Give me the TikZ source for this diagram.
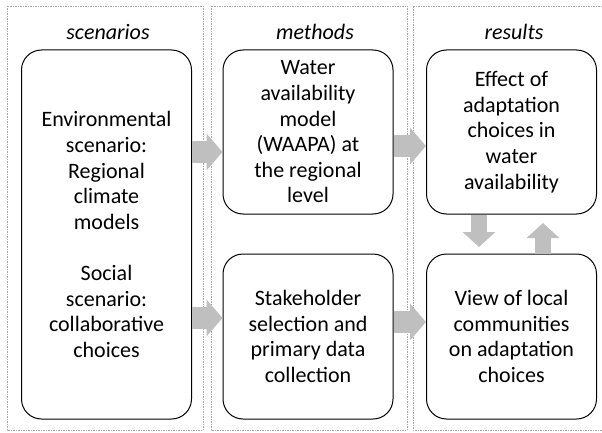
\documentclass[tikz,border=0pt]{standalone}
\usepackage{fontspec}
\setmainfont{Carlito}
\usetikzlibrary{arrows.meta}
\definecolor{flowgrey}{HTML}{BFBFBF}
\definecolor{panelgrey}{HTML}{A6A6A6}
\begin{document}
\begin{tikzpicture}[x=1pt,y=-1pt,
  panel/.style={draw=panelgrey, line width=0.7pt, dash pattern=on 1.5pt off 1pt},
  stagebox/.style={draw=black, line width=1pt, fill=white, rounded corners=20pt,
    minimum width=170pt, inner sep=0pt, align=center,
    font=\fontsize{22}{25.6}\selectfont},
  coltitle/.style={font=\fontsize{22}{25.6}\selectfont\itshape},
  hflow/.style={draw=flowgrey, line width=22pt, -{Triangle[length=16pt,width=36pt]}},
  vflow/.style={draw=flowgrey, line width=16pt, -{Triangle[length=15pt,width=32pt]}}
]
\useasboundingbox (0,0) rectangle (602,433);

% column frames
\draw[panel] (7,6) rectangle (203,430);
\draw[panel] (211,6) rectangle (407,430);
\draw[panel] (602,6) -- (413,6) -- (413,430) -- (602,430);

% column titles
\node[coltitle] (tscen) at (108,32) {scenarios};
\node[coltitle] (tmeth) at (315,32) {methods};
\node[coltitle] (tres)  at (514,32) {results};

% stage boxes
\node[stagebox, minimum height=369pt] (scen) at (106.5,234.5)
  {Environmental\\scenario:\\Regional\\climate\\models\\[25.6pt]Social\\scenario:\\collaborative\\choices};
\node[stagebox, minimum height=164pt] (water) at (308,132)
  {Water\\availability\\model\\(WAAPA) at\\the regional\\level};
\node[stagebox, minimum height=164pt] (effect) at (511.5,132)
  {Effect of\\adaptation\\choices in\\water\\availability};
\node[stagebox, minimum height=165pt] (stake) at (308,336.5)
  {Stakeholder\\selection and\\primary data\\collection};
\node[stagebox, minimum height=165pt] (view) at (511.5,336.5)
  {View of local\\communities\\on adaptation\\choices};

% arrow levels and free arrow ends
\coordinate (r1) at (0,152);
\coordinate (r2) at (0,146);
\coordinate (r3) at (0,318);
\coordinate (r4) at (0,322);
\coordinate (downtip) at (479,247);
\coordinate (uptip) at (543,223);

% flow arrows
\draw[hflow] (scen.east |- r1) -- (water.west |- r1);
\draw[hflow] (water.east |- r2) -- (effect.west |- r2);
\draw[hflow] (scen.east |- r3) -- (stake.west |- r3);
\draw[hflow] (stake.east |- r4) -- (view.west |- r4);
\draw[vflow] (effect.south -| downtip) -- (downtip);
\draw[vflow] (view.north -| uptip) -- (uptip);
\end{tikzpicture}
\end{document}
